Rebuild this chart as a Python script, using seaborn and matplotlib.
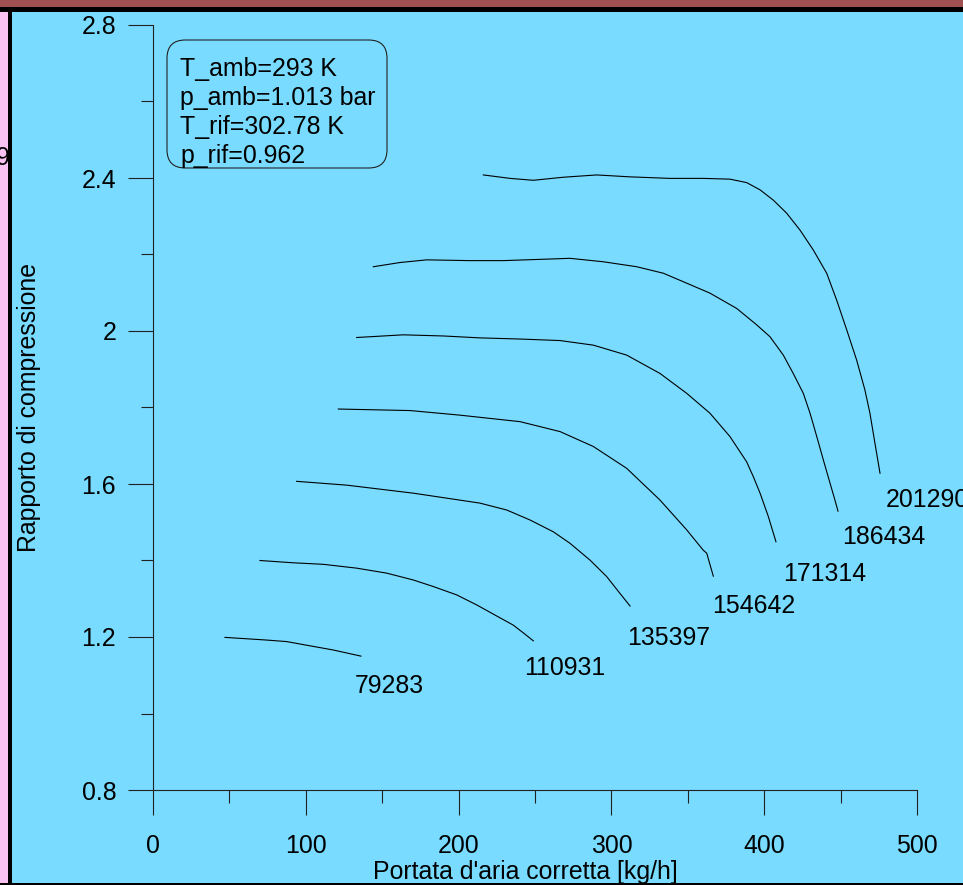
import numpy as np
import pandas as pd
import matplotlib
matplotlib.use("Agg")
import matplotlib.pyplot as plt
from matplotlib.patches import Rectangle, FancyBboxPatch
from matplotlib.ticker import MultipleLocator, FormatStrFormatter
import seaborn as sns

plt.rcParams['font.family'] = ['Liberation Sans', 'DejaVu Sans']

# Compressor map: constant-speed lines (rpm), corrected air flow vs pressure ratio
speeds = ["79283", "110931", "135397", "154642", "171314", "186434", "201290"]

flow_79283 = [47.1, 74.4, 87.5, 102.7, 118.0, 136.1]
ratio_79283 = [1.199, 1.192, 1.188, 1.177, 1.166, 1.150]

flow_110931 = [70.0, 91.8, 111.5, 133.3, 152.9, 170.4, 183.4, 198.8, 211.8,
               224.9, 235.8, 242.3, 248.9]
ratio_110931 = [1.400, 1.394, 1.390, 1.380, 1.367, 1.349, 1.332, 1.310, 1.284,
                1.255, 1.231, 1.211, 1.190]

flow_135397 = [94.0, 126.8, 170.4, 214.0, 231.5, 246.7, 262.0, 272.9, 286.0,
               296.9, 305.6, 312.2]
ratio_135397 = [1.607, 1.597, 1.576, 1.550, 1.532, 1.506, 1.475, 1.445, 1.401,
                1.358, 1.314, 1.281]

flow_154642 = [121.3, 168.2, 200.9, 240.2, 266.4, 288.2, 310.0, 331.8, 349.3,
               360.1, 362.4, 366.7]
ratio_154642 = [1.796, 1.792, 1.780, 1.763, 1.737, 1.698, 1.641, 1.558, 1.480,
                1.427, 1.419, 1.359]

flow_171314 = [133.3, 163.8, 190.0, 214.0, 240.2, 266.4, 288.2, 310.0, 331.8,
               349.3, 364.5, 377.6, 388.5, 392.9, 397.3, 402.7, 407.7]
ratio_171314 = [1.983, 1.990, 1.987, 1.982, 1.979, 1.975, 1.963, 1.937, 1.889,
                1.837, 1.785, 1.724, 1.658, 1.619, 1.576, 1.515, 1.449]

flow_186434 = [144.2, 161.6, 179.1, 207.5, 229.3, 251.1, 272.9, 294.7, 316.6,
               334.0, 349.3, 364.5, 382.0, 395.1, 403.8, 412.5, 419.0, 425.6,
               430.0, 434.4, 438.7, 443.1, 446.3, 448.3]
ratio_186434 = [2.168, 2.179, 2.186, 2.184, 2.184, 2.187, 2.190, 2.181, 2.168,
                2.151, 2.125, 2.099, 2.059, 2.016, 1.985, 1.937, 1.889, 1.837,
                1.785, 1.724, 1.663, 1.602, 1.558, 1.529]

flow_201290 = [216.2, 233.6, 248.9, 268.5, 290.4, 312.2, 338.4, 360.1, 377.6,
               388.5, 397.3, 406.0, 414.7, 423.4, 432.1, 440.9, 447.4, 454.0,
               460.5, 465.9, 469.2, 472.5, 475.8]
ratio_201290 = [2.408, 2.399, 2.394, 2.402, 2.408, 2.403, 2.399, 2.399, 2.397,
                2.388, 2.369, 2.342, 2.308, 2.264, 2.212, 2.151, 2.081, 2.003,
                1.924, 1.846, 1.785, 1.706, 1.628]

flows = [flow_79283, flow_110931, flow_135397, flow_154642,
         flow_171314, flow_186434, flow_201290]
ratios = [ratio_79283, ratio_110931, ratio_135397, ratio_154642,
          ratio_171314, ratio_186434, ratio_201290]

info_lines = ["T_amb=293 K", "p_amb=1.013 bar", "T_rif=302.78 K", "p_rif=0.962"]

x_label = "Portata d'aria corretta [kg/h]"
y_label = "Rapporto di compressione"

df = pd.concat(
    [pd.DataFrame({"speed": s, "flow": f, "ratio": r})
     for s, f, r in zip(speeds, flows, ratios)],
    ignore_index=True,
)

W, H = 963, 885
BG = "#78DBFF"
FS = 17.9
fig = plt.figure(figsize=(W / 100, H / 100), dpi=100, facecolor=BG)

# window frame decorations
def frame_rect(x0, y0, w, h, color, z):
    fig.add_artist(Rectangle((x0 / W, 1 - (y0 + h) / H), w / W, h / H,
                             transform=fig.transFigure, facecolor=color,
                             edgecolor="none", zorder=z))

frame_rect(0, 0, W, 7, "#A05050", 10)
frame_rect(0, 12, 8, H - 12, "#F9C2F0", 10)
fig.text(10 / W, 1 - 158 / H, "9", ha="right", va="center", fontsize=FS,
         color="black", zorder=11)
frame_rect(0, 7, W, 5, "black", 12)
frame_rect(8, 7, 4, H - 7, "black", 12)
frame_rect(0, H - 2, W, 2, "black", 12)

AX_L, AX_R, AX_T, AX_B = 153, 917, 25, 790
AW, AH = AX_R - AX_L, AX_B - AX_T
ax = fig.add_axes([AX_L / W, 1 - AX_B / H, AW / W, AH / H])
ax.set_facecolor(BG)

def ax_frac(px, py):
    return (px - AX_L) / AW, (AX_B - py) / AH

sns.lineplot(data=df, x="flow", y="ratio", units="speed", estimator=None,
             sort=False, color="black", linewidth=0.8, ax=ax, legend=False)

# speed labels sit just below the end of each line (offsets in pixels)
label_offsets = [(-6, 30), (-9, 27), (-3, 32), (-1, 30), (7, 32), (4, 26), (6, 27)]
for s, f, r, (dx, dy) in zip(speeds, flows, ratios, label_offsets):
    ax.annotate(s, xy=(f[-1], r[-1]), xytext=(dx * 0.72, -dy * 0.72),
                textcoords="offset points", ha="left", va="center",
                fontsize=FS, color="black", annotation_clip=False)

ax.set_xlim(0, 500)
ax.set_ylim(0.8, 2.8)
ax.xaxis.set_major_locator(MultipleLocator(100))
ax.xaxis.set_minor_locator(MultipleLocator(50))
ax.yaxis.set_major_locator(MultipleLocator(0.4))
ax.yaxis.set_minor_locator(MultipleLocator(0.2))
ax.yaxis.set_major_formatter(FormatStrFormatter("%g"))

for side in ("top", "right"):
    ax.spines[side].set_visible(False)
for side in ("left", "bottom"):
    ax.spines[side].set_color("#222222")
    ax.spines[side].set_linewidth(0.8)

ax.tick_params(which="major", direction="out", length=18, width=0.8,
               color="#222222", labelsize=FS, labelcolor="black")
ax.tick_params(which="minor", direction="out", length=9, width=0.8, color="#222222")
ax.tick_params(axis="y", which="major", pad=8.5)
ax.tick_params(axis="x", which="major", pad=14)

ax.set_xlabel(x_label, fontsize=FS)
ax.set_ylabel(y_label, fontsize=FS)
ax.xaxis.set_label_coords(*ax_frac(525, 860))
ax.yaxis.set_label_coords(-0.146, 0.5)

# ambient / reference conditions box
bx0, by0 = ax_frac(167, 168)
bx1, by1 = ax_frac(387, 40)
ax.add_patch(FancyBboxPatch((bx0, by0), bx1 - bx0, by1 - by0,
                            boxstyle="round,pad=0,rounding_size=0.024",
                            transform=ax.transAxes, facecolor=BG,
                            edgecolor="#222222", linewidth=0.8, zorder=3))
tx, ty = ax_frac(180, 57)
ax.text(tx, ty, "\n".join(info_lines), transform=ax.transAxes,
        ha="left", va="top", fontsize=FS, linespacing=1.27, zorder=4)

fig.savefig("out.png", dpi=100, facecolor=BG)
